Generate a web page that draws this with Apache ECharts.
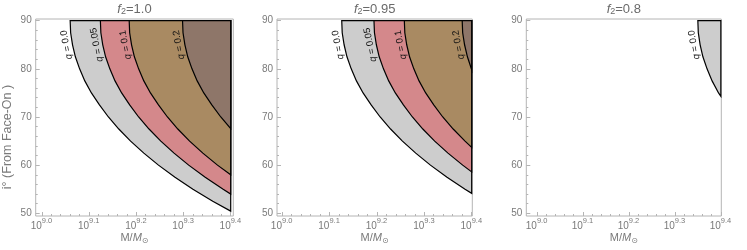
<!DOCTYPE html>
<html><head><meta charset="utf-8">
<script src="https://cdn.jsdelivr.net/npm/echarts@6/dist/echarts.min.js"></script>
<style>html,body{margin:0;padding:0;background:#fff}#c{width:747px;height:250px}</style>
</head><body><div id="c"></div>
<script>
// ---- data ----
const panelF2 = ['1.0', '0.95', '0.8'];
const xTickValues = [9.0, 9.1, 9.2, 9.3, 9.4];
const xTickBase = '10';
const xTickExp = ['9.0', '9.1', '9.2', '9.3', '9.4'];
const xMinorTicks = [9.02,9.04,9.06,9.08,9.12,9.14,9.16,9.18,9.22,9.24,9.26,9.28,9.32,9.34,9.36,9.38];
const yTickValues = [50, 60, 70, 80, 90];
const yMinorTicks = [52,54,56,58,62,64,66,68,72,74,76,78,82,84,86,88];
const qNames = ['0.0', '0.05', '0.1', '0.2'];
const M_EDGE = 9.4;   // log10 M upper limit of regions
const I_EDGE = 90;    // inclination upper limit
// boundary curves [log10(M/Msun), i deg]
const f100_q000 = [[9.060,90],[9.061,87.5],[9.065,85],[9.071,82.5],[9.080,80],[9.091,77.5],[9.105,75],[9.122,72.5],[9.141,70],[9.163,67.5],[9.188,65],[9.216,62.5],[9.247,60],[9.282,57.5],[9.320,55],[9.362,52.5],[9.400,50.45]];
const f100_q005 = [[9.124,90],[9.125,87.5],[9.129,85],[9.135,82.5],[9.144,80],[9.155,77.5],[9.169,75],[9.186,72.5],[9.205,70],[9.227,67.5],[9.252,65],[9.280,62.5],[9.311,60],[9.346,57.5],[9.384,55],[9.400,54.0]];
const f100_q010 = [[9.185,90],[9.186,87.5],[9.190,85],[9.196,82.5],[9.205,80],[9.216,77.5],[9.230,75],[9.247,72.5],[9.266,70],[9.288,67.5],[9.313,65],[9.341,62.5],[9.372,60],[9.400,58.0]];
const f100_q020 = [[9.298,90],[9.299,87.5],[9.303,85],[9.309,82.5],[9.318,80],[9.329,77.5],[9.343,75],[9.360,72.5],[9.379,70],[9.400,67.6]];
const f095_q000 = [[9.126,90],[9.127,87.5],[9.131,85],[9.137,82.5],[9.146,80],[9.157,77.5],[9.171,75],[9.188,72.5],[9.207,70],[9.229,67.5],[9.254,65],[9.282,62.5],[9.313,60],[9.348,57.5],[9.386,55],[9.400,54.15]];
const f095_q005 = [[9.194,90],[9.195,87.5],[9.199,85],[9.205,82.5],[9.214,80],[9.225,77.5],[9.239,75],[9.256,72.5],[9.275,70],[9.297,67.5],[9.322,65],[9.350,62.5],[9.381,60],[9.400,58.6]];
const f095_q010 = [[9.258,90],[9.259,87.5],[9.263,85],[9.269,82.5],[9.278,80],[9.289,77.5],[9.303,75],[9.320,72.5],[9.339,70],[9.361,67.5],[9.386,65],[9.400,63.7]];
const f095_q020 = [[9.380,90],[9.381,87.5],[9.385,85],[9.391,82.5],[9.400,79.8]];
const f080_q000 = [[9.350,90],[9.351,87.5],[9.355,85],[9.361,82.5],[9.370,80],[9.381,77.5],[9.395,75],[9.400,74.3]];

const panelCurves = [
  [f100_q000, f100_q005, f100_q010, f100_q020],
  [f095_q000, f095_q005, f095_q010, f095_q020],
  [f080_q000]
];

// ---- layout / style ----
const regionColors = ['#cdcdcd', '#d4888b', '#a98a62', '#8e7669'];
const grids = [
  {left: 35.7, top: 19, width: 197.6, height: 197},
  {left: 277, top: 19, width: 195.3, height: 197},
  {left: 526.3, top: 19, width: 195, height: 197}
];
const xRanges = [[8.987, 9.4055], [8.9895, 9.4013], [8.977, 9.401]];
const yRange = [49.44, 90.35];
const FRAME = '#b4b4b4';
const LABEL = '#7a7a7a';
const FONT = "'Liberation Sans', Arial, sans-serif";

const mctx = document.createElement('canvas').getContext('2d');
function textRow(cx, cy, pieces) {
  const widths = pieces.map(p => {
    mctx.font = (p.italic ? 'italic ' : '') + p.size + 'px ' + (p.family || FONT);
    return mctx.measureText(p.t).width;
  });
  const total = widths.reduce((a, b) => a + b, 0);
  let x = cx - total / 2;
  return pieces.map((p, k) => {
    const el = {type: 'text', x: x, y: cy + (p.dy || 0),
      style: {text: p.t, fontSize: p.size, fontStyle: p.italic ? 'italic' : 'normal',
        fontFamily: p.family || FONT, fill: p.fill || LABEL, align: 'left', verticalAlign: 'middle'}};
    x += widths[k];
    return el;
  });
}

const chart = echarts.init(document.getElementById('c'), null, {renderer: 'canvas'});

const xAxes = [], yAxes = [], series = [];
let graphics = [];
grids.forEach((g, gi) => {
  const xr = {type: 'value', gridIndex: gi, position: 'bottom', min: xRanges[gi][0], max: xRanges[gi][1],
    axisLine: {show: false}, splitLine: {show: false}};
  xAxes.push(Object.assign({}, xr, {
    axisTick: {show: true, inside: true, length: 4, lineStyle: {color: FRAME}, customValues: xTickValues},
    axisLabel: {customValues: xTickValues, margin: 5, align: 'right', verticalAlign: 'top',
      fontSize: 10, color: LABEL, fontFamily: FONT, formatter: () => xTickBase}
  }));
  xAxes.push(Object.assign({}, xr, {
    axisLabel: {show: false},
    axisTick: {show: true, inside: true, length: 2, lineStyle: {color: FRAME}, customValues: xMinorTicks}
  }));
  xAxes.push(Object.assign({}, xr, {
    axisTick: {show: false},
    axisLabel: {customValues: xTickValues, margin: 1, align: 'left', verticalAlign: 'top',
      fontSize: 7.5, color: LABEL, fontFamily: FONT,
      formatter: v => xTickExp[xTickValues.findIndex(t => Math.abs(t - v) < 1e-6)]}
  }));
  const yr = {type: 'value', gridIndex: gi, position: 'left', min: yRange[0], max: yRange[1],
    axisLine: {show: false}, splitLine: {show: false}};
  yAxes.push(Object.assign({}, yr, {
    axisTick: {show: true, inside: true, length: 4, lineStyle: {color: FRAME}, customValues: yTickValues},
    axisLabel: {customValues: yTickValues, margin: 4, fontSize: 10, color: LABEL, fontFamily: FONT}
  }));
  yAxes.push(Object.assign({}, yr, {
    axisLabel: {show: false},
    axisTick: {show: true, inside: true, length: 2, lineStyle: {color: FRAME}, customValues: yMinorTicks}
  }));

  panelCurves[gi].forEach((pts, qi) => {
    series.push({
      type: 'custom', coordinateSystem: 'cartesian2d',
      xAxisIndex: gi * 3, yAxisIndex: gi * 2,
      data: pts, silent: true, z: 2 + qi,
      renderItem: (params, api) => {
        if (params.dataIndex !== 0) return null;
        const poly = pts.map(p => api.coord(p));
        poly.push(api.coord([M_EDGE, I_EDGE]));
        const lo = api.coord(pts[3]);
        const hi = api.coord(pts[1]);
        const ang = Math.atan2(-(hi[1] - lo[1]), hi[0] - lo[0]);
        const anchor = api.coord(pts[2]);
        const off = 6;
        return {
          type: 'group',
          children: [
            {type: 'polygon', shape: {points: poly},
             style: {fill: regionColors[qi], stroke: '#000', lineWidth: 1.2, lineJoin: 'miter'}},
            {type: 'text', x: anchor[0] - off, y: anchor[1], rotation: ang,
             style: {x: 0, y: 0, text: '{q|q}{t| = ' + qNames[qi] + '}', align: 'center', verticalAlign: 'middle',
               rich: {q: {fontSize: 9.5, fontStyle: 'italic', fontFamily: FONT, fill: '#111'},
                      t: {fontSize: 9.5, fontFamily: FONT, fill: '#111'}}}}
          ]
        };
      }
    });
  });

  const cx = g.left + g.width / 2;
  graphics = graphics.concat(textRow(cx, 9, [
    {t: 'f', size: 13, italic: true, fill: '#6a6a6a'},
    {t: '2', size: 9, dy: 3, fill: '#6a6a6a'},
    {t: '=' + panelF2[gi], size: 13, fill: '#6a6a6a'}
  ]));
  graphics = graphics.concat(textRow(cx, 238, [
    {t: 'M/', size: 11},
    {t: 'M', size: 11, italic: true},
    {t: '⊙', size: 8, dy: 3, family: 'DejaVu Sans'}
  ]));
});

graphics.push({
  type: 'text', x: 8, y: 137, rotation: Math.PI / 2,
  style: {text: 'i° (From Face-On )', align: 'center', verticalAlign: 'middle', fontSize: 12.5, fontFamily: FONT, fill: LABEL}
});

chart.setOption({
  animation: false,
  grid: grids.map(g => Object.assign({show: true, borderColor: FRAME, borderWidth: 1, backgroundColor: 'transparent', containLabel: false}, g)),
  xAxis: xAxes, yAxis: yAxes, series: series, graphic: graphics
});
</script></body></html>
